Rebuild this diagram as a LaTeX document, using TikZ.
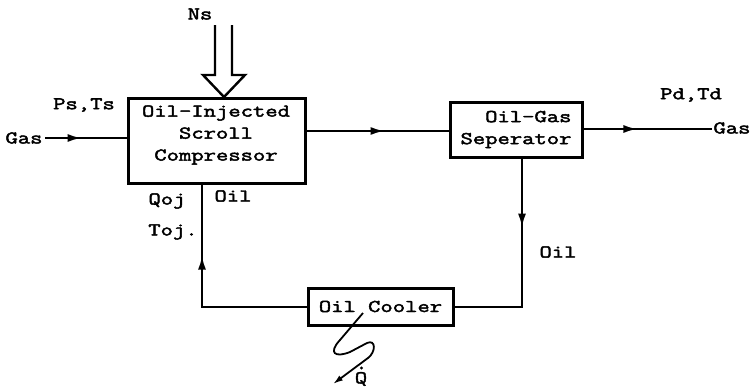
\documentclass[tikz,border=0pt]{standalone}
\usepackage{fontspec}
\setmonofont[FakeStretch=1.33,AutoFakeBold=2.5]{Latin Modern Mono}
\usetikzlibrary{arrows.meta,decorations.markings}
\begin{document}
\begin{tikzpicture}[x=1pt,y=-1pt,line width=2.4pt,
  lbl/.style={font=\ttfamily\bfseries\fontsize{18}{22}\selectfont,inner sep=0pt,align=center},
  blk/.style={draw,line width=3pt,inner sep=0pt,rectangle},
  midarrow/.style={postaction={decorate},decoration={markings,mark=at position #1 with {\arrow{Latex[length=14pt,width=8pt]}}}}]
\useasboundingbox (0,0) rectangle (756,391);
% blocks
\node[blk,minimum width=177pt,minimum height=85pt] (comp) at (216.5,140.5) {};
\node[lbl] (comptext) at (216,135) {Oil-Injected\\Scroll\\Compressor};
\node[blk,minimum width=132pt,minimum height=55pt,lbl,align=right] (sep) at (516,129.5) {Oil-Gas\\Seperator};
\node[blk,minimum width=145pt,minimum height=37pt,lbl] (cool) at (380.5,306.5) {Oil Cooler};
% free ends
\coordinate (gasL) at (45,138);
\coordinate (gasR) at (712,129);
\coordinate (mid) at (0,131);
\coordinate (oilR) at (522,307);
\coordinate (oilL) at (202,307);
% labels
\node[lbl] (gasLt) at (24,138) {Gas};
\node[lbl] (gasRt) at (732,128) {Gas};
\node[lbl] (psts) at (84,105) {Ps,Ts};
\node[lbl] (pdtd) at (691,95) {Pd,Td};
\node[lbl] (ns) at (200,14) {Ns};
\node[lbl] (qoj) at (167,201) {Qoj};
\node[lbl] (toj) at (173,232) {Toj.};
\node[lbl] (oil1) at (233,196) {Oil};
\node[lbl] (oil2) at (558,252) {Oil};
\node[lbl] (qdot) at (361,379) {Q};
\fill (qdot.north) ++(0.5,-3) circle (1.6pt);
% connectors
\draw[midarrow=0.45] (gasL) -- (gasL -| comp.west);
\draw[midarrow=0.55] (comp.east |- mid) -- (sep.west |- mid);
\draw[midarrow=0.42] (sep.east |- gasR) -- (gasR);
\draw[midarrow=0.32] (sep.south -| oilR) -- (oilR) -- (cool.east |- oilR);
\draw[midarrow=0.687] (cool.west |- oilL) -- (oilL) -- (comp.south -| oilL);
% shaft power input
\draw[line width=2.4pt,line join=miter] (215,25) -- (215,75) -- (203,75) -- (224,97) -- (245,75) -- (232,75) -- (232,25);
% heat rejection
\draw[line width=1.8pt,-{Latex[length=10pt,width=6pt]}] (363,313) -- (340,340) .. controls (328,353) and (335,358) .. (350,352) -- (367,343) .. controls (376,339) and (376,352) .. (368,358) -- (333,384);
\end{tikzpicture}
\end{document}
